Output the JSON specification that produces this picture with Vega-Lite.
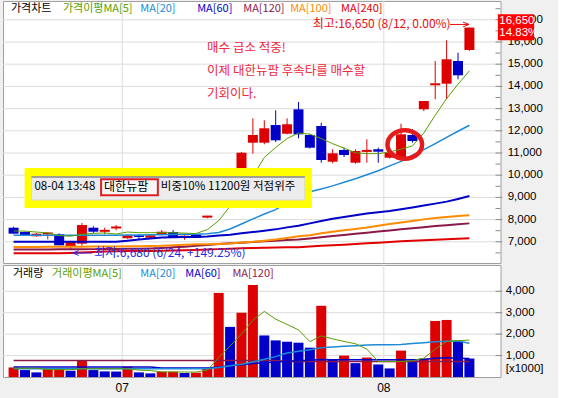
{
"$schema": "https://vega.github.io/schema/vega-lite/v6.json",
"background": "#f0f0f0",
"padding": {"left": 2, "top": 0, "right": 13, "bottom": 5},
"spacing": 0,
"config": {
  "view": {"fill": "#ffffff", "stroke": "#a0a0a0"},
  "axis": {"disable": true}
},
"datasets": {
"k": [
{"i":0,"o":7635,"h":7680,"l":7360,"c":7365,"d":"down","v":446,"vd":"up","m5":7490,"m20":7300,"m60":7000,"m100":6770,"m120":6650,"m240":6480,"v5":410,"v20":380,"v60":470,"v120":770},
{"i":1,"o":7440,"h":7460,"l":7270,"c":7275,"d":"down","v":323,"vd":"down","m5":7480,"m20":7300,"m60":7000,"m100":6770,"m120":6650,"m240":6480,"v5":410,"v20":380,"v60":470,"v120":770},
{"i":2,"o":7250,"h":7400,"l":7230,"c":7365,"d":"up","v":215,"vd":"down","m5":7440,"m20":7295,"m60":7000,"m100":6770,"m120":6655,"m240":6480,"v5":410,"v20":380,"v60":470,"v120":770},
{"i":3,"o":7330,"h":7410,"l":7110,"c":7420,"d":"up","v":369,"vd":"up","m5":7400,"m20":7295,"m60":7000,"m100":6775,"m120":6655,"m240":6480,"v5":350,"v20":380,"v60":470,"v120":770},
{"i":4,"o":7340,"h":7380,"l":6840,"c":6840,"d":"down","v":400,"vd":"up","m5":7280,"m20":7290,"m60":7000,"m100":6775,"m120":6660,"m240":6480,"v5":340,"v20":380,"v60":470,"v120":770},
{"i":5,"o":6780,"h":7050,"l":6680,"c":7005,"d":"up","v":292,"vd":"down","m5":7250,"m20":7290,"m60":7000,"m100":6780,"m120":6660,"m240":6500,"v5":340,"v20":380,"v60":470,"v120":770},
{"i":6,"o":6915,"h":7845,"l":6825,"c":7755,"d":"up","v":769,"vd":"up","m5":7340,"m20":7290,"m60":7000,"m100":6780,"m120":6665,"m240":6520,"v5":385,"v20":380,"v60":470,"v120":770},
{"i":7,"o":7635,"h":7700,"l":7400,"c":7455,"d":"down","v":323,"vd":"down","m5":7380,"m20":7295,"m60":7000,"m100":6785,"m120":6670,"m240":6540,"v5":385,"v20":380,"v60":470,"v120":770},
{"i":8,"o":7450,"h":7635,"l":7340,"c":7540,"d":"up","v":262,"vd":"down","m5":7400,"m20":7300,"m60":7000,"m100":6790,"m120":6675,"m240":6560,"v5":385,"v20":380,"v60":470,"v120":770},
{"i":9,"o":7600,"h":7755,"l":7520,"c":7690,"d":"up","v":255,"vd":"down","m5":7350,"m20":7300,"m60":7000,"m100":6790,"m120":6680,"m240":6570,"v5":385,"v20":380,"v60":470,"v120":770},
{"i":10,"o":7160,"h":7320,"l":7140,"c":7295,"d":"up","v":477,"vd":"up","m5":7440,"m20":7305,"m60":7050,"m100":6800,"m120":6685,"m240":6580,"v5":380,"v20":380,"v60":470,"v120":770},
{"i":11,"o":7295,"h":7340,"l":7110,"c":7215,"d":"down","v":215,"vd":"down","m5":7410,"m20":7310,"m60":7100,"m100":6800,"m120":6690,"m240":6590,"v5":320,"v20":380,"v60":470,"v120":770},
{"i":12,"o":7185,"h":7300,"l":7170,"c":7295,"d":"up","v":169,"vd":"down","m5":7410,"m20":7315,"m60":7150,"m100":6810,"m120":6700,"m240":6590,"v5":300,"v20":380,"v60":470,"v120":770},
{"i":13,"o":7340,"h":7530,"l":7320,"c":7455,"d":"up","v":246,"vd":"up","m5":7410,"m20":7320,"m60":7190,"m100":6820,"m120":6720,"m240":6600,"v5":240,"v20":380,"v60":420,"v120":770},
{"i":14,"o":7440,"h":7530,"l":7180,"c":7185,"d":"down","v":250,"vd":"up","m5":7410,"m20":7330,"m60":7210,"m100":6850,"m120":6750,"m240":6610,"v5":235,"v20":380,"v60":420,"v120":770},
{"i":15,"o":7185,"h":7290,"l":7095,"c":7275,"d":"up","v":185,"vd":"down","m5":7390,"m20":7335,"m60":7215,"m100":6870,"m120":6780,"m240":6620,"v5":230,"v20":380,"v60":420,"v120":770},
{"i":16,"o":7340,"h":7380,"l":7180,"c":7185,"d":"down","v":200,"vd":"up","m5":7370,"m20":7340,"m60":7220,"m100":6890,"m120":6820,"m240":6630,"v5":230,"v20":380,"v60":420,"v120":770},
{"i":17,"o":8090,"h":8170,"l":8060,"c":8180,"d":"up","v":415,"vd":"up","m5":7550,"m20":7360,"m60":7240,"m100":6890,"m120":6860,"m240":6650,"v5":320,"v20":390,"v60":420,"v120":770},
{"i":18,"o":8700,"h":10100,"l":8650,"c":9700,"d":"up","v":3923,"vd":"up","m5":7950,"m20":7420,"m60":7280,"m100":6900,"m120":6900,"m240":6670,"v5":900,"v20":440,"v60":470,"v120":770},
{"i":19,"o":10100,"h":10250,"l":9300,"c":9400,"d":"down","v":2338,"vd":"down","m5":8600,"m20":7580,"m60":7320,"m100":6920,"m120":6930,"m240":6690,"v5":1450,"v20":520,"v60":520,"v120":770},
{"i":20,"o":9500,"h":11050,"l":9450,"c":11014,"d":"up","v":3000,"vd":"up","m5":9300,"m20":7800,"m60":7390,"m100":6970,"m120":6960,"m240":6710,"v5":2000,"v20":600,"v60":570,"v120":770},
{"i":21,"o":11464,"h":12563,"l":10968,"c":11811,"d":"up","v":4292,"vd":"up","m5":9950,"m20":8030,"m60":7440,"m100":7000,"m120":6990,"m240":6720,"v5":2650,"v20":700,"v60":630,"v120":770},
{"i":22,"o":11464,"h":12473,"l":11392,"c":12113,"d":"up","v":1938,"vd":"down","m5":10800,"m20":8250,"m60":7500,"m100":7050,"m120":7020,"m240":6730,"v5":3060,"v20":830,"v60":660,"v120":770},
{"i":23,"o":12261,"h":12923,"l":11495,"c":11572,"d":"down","v":1708,"vd":"down","m5":11250,"m20":8450,"m60":7560,"m100":7100,"m120":7050,"m240":6740,"v5":2700,"v20":950,"v60":700,"v120":770},
{"i":24,"o":11869,"h":12563,"l":11842,"c":12293,"d":"up","v":1646,"vd":"down","m5":11650,"m20":8780,"m60":7650,"m100":7170,"m120":7080,"m240":6750,"v5":2450,"v20":1120,"v60":740,"v120":725},
{"i":25,"o":12968,"h":13297,"l":11662,"c":11842,"d":"down","v":1600,"vd":"down","m5":11900,"m20":9130,"m60":7720,"m100":7250,"m120":7100,"m240":6760,"v5":2200,"v20":1200,"v60":760,"v120":725},
{"i":26,"o":11811,"h":11850,"l":11200,"c":11239,"d":"down","v":1369,"vd":"down","m5":11850,"m20":9250,"m60":7830,"m100":7300,"m120":7150,"m240":6790,"v5":1650,"v20":1270,"v60":780,"v120":725},
{"i":27,"o":12216,"h":12365,"l":10563,"c":10685,"d":"down","v":3323,"vd":"up","m5":11650,"m20":9380,"m60":7940,"m100":7380,"m120":7200,"m240":6820,"v5":1920,"v20":1370,"v60":820,"v120":725},
{"i":28,"o":10608,"h":11167,"l":10536,"c":10986,"d":"up","v":800,"vd":"down","m5":11420,"m20":9520,"m60":8040,"m100":7455,"m120":7260,"m240":6840,"v5":1780,"v20":1400,"v60":800,"v120":725},
{"i":29,"o":11135,"h":11239,"l":10820,"c":10910,"d":"down","v":1000,"vd":"up","m5":11220,"m20":9680,"m60":8120,"m100":7520,"m120":7310,"m240":6870,"v5":1660,"v20":1430,"v60":800,"v120":725},
{"i":30,"o":10563,"h":11167,"l":10518,"c":11090,"d":"up","v":646,"vd":"down","m5":11010,"m20":9840,"m60":8200,"m100":7580,"m120":7360,"m240":6900,"v5":1550,"v20":1460,"v60":800,"v120":725},
{"i":31,"o":11050,"h":11617,"l":10563,"c":11140,"d":"up","v":908,"vd":"up","m5":10970,"m20":10020,"m60":8270,"m100":7640,"m120":7410,"m240":6930,"v5":1300,"v20":1490,"v60":800,"v120":725},
{"i":32,"o":11167,"h":11239,"l":10563,"c":11059,"d":"down","v":585,"vd":"down","m5":10970,"m20":10200,"m60":8330,"m100":7720,"m120":7460,"m240":6960,"v5":720,"v20":1500,"v60":800,"v120":725},
{"i":33,"o":10788,"h":11100,"l":10750,"c":11014,"d":"up","v":400,"vd":"down","m5":11050,"m20":10420,"m60":8390,"m100":7800,"m120":7510,"m240":6990,"v5":720,"v20":1510,"v60":800,"v120":725},
{"i":34,"o":10716,"h":12320,"l":10700,"c":11842,"d":"up","v":1231,"vd":"up","m5":11170,"m20":10620,"m60":8470,"m100":7870,"m120":7560,"m240":7030,"v5":720,"v20":1520,"v60":800,"v120":725},
{"i":35,"o":11811,"h":12068,"l":11464,"c":11541,"d":"down","v":769,"vd":"down","m5":11320,"m20":10900,"m60":8550,"m100":7940,"m120":7610,"m240":7050,"v5":760,"v20":1560,"v60":800,"v120":725},
{"i":36,"o":12968,"h":13342,"l":12892,"c":13342,"d":"up","v":862,"vd":"up","m5":11900,"m20":11150,"m60":8640,"m100":8010,"m120":7660,"m240":7070,"v5":880,"v20":1600,"v60":820,"v120":725},
{"i":37,"o":14050,"h":15144,"l":13419,"c":14140,"d":"up","v":2615,"vd":"up","m5":12700,"m20":11420,"m60":8720,"m100":8070,"m120":7710,"m240":7090,"v5":1300,"v20":1650,"v60":880,"v120":725},
{"i":38,"o":14122,"h":16077,"l":13419,"c":15221,"d":"up","v":2662,"vd":"up","m5":13450,"m20":11700,"m60":8810,"m100":8120,"m120":7750,"m240":7120,"v5":1650,"v20":1670,"v60":900,"v120":725},
{"i":39,"o":15144,"h":15518,"l":14320,"c":14500,"d":"down","v":1677,"vd":"down","m5":14100,"m20":11980,"m60":8930,"m100":8160,"m120":7790,"m240":7140,"v5":1700,"v20":1680,"v60":880,"v120":725},
{"i":40,"o":15640,"h":16650,"l":15600,"c":16650,"d":"up","v":862,"vd":"down","m5":14700,"m20":12250,"m60":9060,"m100":8200,"m120":7830,"m240":7160,"v5":1720,"v20":1570,"v60":860,"v120":725}
],
"pgrid": [{"g":7000},{"g":8000},{"g":9000},{"g":10000},{"g":11000},{"g":12000},{"g":13000},{"g":14000},{"g":15000},{"g":16000},{"g":17000}],
"pminor": [{"g":6500},{"g":7500},{"g":8500},{"g":9500},{"g":10500},{"g":11500},{"g":12500},{"g":13500},{"g":14500},{"g":15500},{"g":16500},{"g":17500}],
"vgrid": [{"g":1000},{"g":2000},{"g":3000},{"g":4000}],
"months": [{"t":9.53,"m":"07"},{"t":32.49,"m":"08"}]
},
"vconcat": [
{
  "width": 497.5,
  "height": 262,
  "layer": [
    {"data": {"name": "pgrid"}, "mark": {"type": "rule", "color": "#dcdcdc", "strokeWidth": 1},
     "encoding": {"y": {"field": "g", "type": "quantitative", "scale": {"domain": [6045, 17847], "nice": false, "zero": false}}}},
    {"data": {"name": "months"}, "mark": {"type": "rule", "color": "#dcdcdc", "strokeWidth": 1},
     "encoding": {"x": {"field": "t", "type": "quantitative", "scale": {"domain": [-0.49, 42.29], "nice": false, "zero": false}}}},
    {"data": {"name": "pgrid"}, "mark": {"type": "rule", "color": "#8c8c8c", "strokeWidth": 1},
     "encoding": {"x": {"datum": 42.29, "type": "quantitative"}, "x2": {"datum": 42.89}, "y": {"field": "g", "type": "quantitative"}}},
    {"data": {"name": "pminor"}, "mark": {"type": "rule", "color": "#8c8c8c", "strokeWidth": 1},
     "encoding": {"x": {"datum": 42.29, "type": "quantitative"}, "x2": {"datum": 42.72}, "y": {"field": "g", "type": "quantitative"}}},
    {"data": {"name": "pgrid"}, "mark": {"type": "text", "align": "left", "baseline": "middle", "font": "Liberation Sans", "fontSize": 11.5, "color": "#000000"},
     "encoding": {"x": {"datum": 43.36, "type": "quantitative"}, "y": {"field": "g", "type": "quantitative"}, "text": {"field": "g", "type": "quantitative", "format": ","}}},
    {"data": {"name": "k"}, "mark": {"type": "rule", "strokeWidth": 1},
     "encoding": {
       "x": {"field": "i", "type": "quantitative"},
       "y": {"field": "l", "type": "quantitative"},
       "y2": {"field": "h"},
       "color": {"field": "d", "type": "nominal", "scale": {"domain": ["up", "down"], "range": ["#dc0000", "#0000c8"]}, "legend": null}
     }},
    {"data": {"name": "k"}, "mark": {"type": "bar", "width": 10},
     "encoding": {
       "x": {"field": "i", "type": "quantitative"},
       "y": {"field": "o", "type": "quantitative"},
       "y2": {"field": "c"},
       "color": {"field": "d", "type": "nominal", "legend": null}
     }},
    {"data": {"name": "k"}, "mark": {"type": "line", "color": "#e00000", "strokeWidth": 2},
     "encoding": {"x": {"field": "i", "type": "quantitative"}, "y": {"field": "m240", "type": "quantitative"}}},
    {"data": {"name": "k"}, "mark": {"type": "line", "color": "#8b1a4a", "strokeWidth": 2},
     "encoding": {"x": {"field": "i", "type": "quantitative"}, "y": {"field": "m120", "type": "quantitative"}}},
    {"data": {"name": "k"}, "mark": {"type": "line", "color": "#ff8c00", "strokeWidth": 2},
     "encoding": {"x": {"field": "i", "type": "quantitative"}, "y": {"field": "m100", "type": "quantitative"}}},
    {"data": {"name": "k"}, "mark": {"type": "line", "color": "#0000c8", "strokeWidth": 2},
     "encoding": {"x": {"field": "i", "type": "quantitative"}, "y": {"field": "m60", "type": "quantitative"}}},
    {"data": {"name": "k"}, "mark": {"type": "line", "color": "#1e8ad6", "strokeWidth": 1.5},
     "encoding": {"x": {"field": "i", "type": "quantitative"}, "y": {"field": "m20", "type": "quantitative"}}},
    {"data": {"name": "k"}, "mark": {"type": "line", "color": "#5a9e00", "strokeWidth": 1},
     "encoding": {"x": {"field": "i", "type": "quantitative"}, "y": {"field": "m5", "type": "quantitative"}}},

    {"data": {"values": [{}]}, "mark": {"type": "rect", "fill": "#ffff00"},
     "encoding": {"x": {"datum": 0.97, "type": "quantitative"}, "x2": {"datum": 26.17},
                  "y": {"datum": 8523, "type": "quantitative"}, "y2": {"datum": 10324}}},
    {"data": {"values": [{}]}, "mark": {"type": "rect", "fill": "#ececec", "stroke": "#d8d8d8", "strokeWidth": 1},
     "encoding": {"x": {"datum": 1.57, "type": "quantitative"}, "x2": {"datum": 25.56},
                  "y": {"datum": 8883, "type": "quantitative"}, "y2": {"datum": 9919}}},
    {"data": {"values": [{}]}, "mark": {"type": "rule", "color": "#8a8a8a", "strokeWidth": 1.5},
     "encoding": {"x": {"datum": 1.57, "type": "quantitative"}, "x2": {"datum": 25.56},
                  "y": {"datum": 9919, "type": "quantitative"}}},
    {"data": {"values": [{}]}, "mark": {"type": "rect", "fill": "#f6f6f6", "stroke": "#e02020", "strokeWidth": 2},
     "encoding": {"x": {"datum": 7.68, "type": "quantitative"}, "x2": {"datum": 12.66},
                  "y": {"datum": 9095, "type": "quantitative"}, "y2": {"datum": 9815}}},
    {"data": {"values": [{}]}, "mark": {"type": "text", "align": "left", "baseline": "middle", "font": "Noto Sans CJK KR", "fontSize": 11.5, "color": "#000000", "text": "08-04 13:48"},
     "encoding": {"x": {"datum": 1.83, "type": "quantitative"}, "y": {"datum": 9468, "type": "quantitative"}}},
    {"data": {"values": [{}]}, "mark": {"type": "text", "align": "left", "baseline": "middle", "font": "Noto Sans CJK KR", "fontSize": 12, "color": "#000000", "text": "대한뉴팜"},
     "encoding": {"x": {"datum": 7.94, "type": "quantitative"}, "y": {"datum": 9468, "type": "quantitative"}}},
    {"data": {"values": [{}]}, "mark": {"type": "text", "align": "left", "baseline": "middle", "font": "Noto Sans CJK KR", "fontSize": 11.5, "color": "#000000", "text": "비중10% 11200원 저점위주"},
     "encoding": {"x": {"datum": 12.92, "type": "quantitative"}, "y": {"datum": 9468, "type": "quantitative"}}},

    {"data": {"values": [{}]}, "mark": {"type": "text", "align": "left", "baseline": "top", "font": "Noto Sans CJK KR", "fontSize": 12.5, "lineHeight": 23, "color": "#f0283c",
              "text": ["매수 급소 적중!", "이제 대한뉴팜 후속타를 매수할", "기회이다."]},
     "encoding": {"x": {"datum": 16.98, "type": "quantitative"}, "y": {"datum": 16020, "type": "quantitative"}}},

    {"data": {"values": [{}]}, "mark": {"type": "point", "shape": "M-1,0A1,0.82,0,1,1,1,0A1,0.82,0,1,1,-1,0Z", "size": 1200, "filled": false, "stroke": "#e41b1b", "strokeWidth": 4.5, "opacity": 1},
     "encoding": {"x": {"datum": 34.33, "type": "quantitative"}, "y": {"datum": 11383, "type": "quantitative"}}},

    {"data": {"values": [{}]}, "mark": {"type": "text", "align": "left", "baseline": "middle", "font": "Noto Sans CJK KR", "fontSize": 12, "color": "#e81010", "text": "최고:16,650 (8/12, 0.00%)"},
     "encoding": {"x": {"datum": 26.25, "type": "quantitative"}, "y": {"datum": 16810, "type": "quantitative"}}},
    {"data": {"values": [{}]}, "mark": {"type": "rule", "color": "#e81010", "strokeWidth": 1},
     "encoding": {"x": {"datum": 38.3, "type": "quantitative"}, "x2": {"datum": 39.95},
                  "y": {"datum": 16790, "type": "quantitative"}}},
    {"data": {"values": [{}]}, "mark": {"type": "point", "shape": "M-1,-0.8L1,0L-1,0.8", "size": 36, "filled": false, "stroke": "#e81010", "strokeWidth": 1, "opacity": 1},
     "encoding": {"x": {"datum": 39.7, "type": "quantitative"}, "y": {"datum": 16790, "type": "quantitative"}}},

    {"data": {"values": [{}]}, "mark": {"type": "text", "align": "left", "baseline": "middle", "font": "Noto Sans CJK KR", "fontSize": 12, "color": "#2a2ae6", "text": "최저:6,680 (6/24, +149.25%)"},
     "encoding": {"x": {"datum": 7.08, "type": "quantitative"}, "y": {"datum": 6495, "type": "quantitative"}}},
    {"data": {"values": [{}]}, "mark": {"type": "rule", "color": "#2a2ae6", "strokeWidth": 1},
     "encoding": {"x": {"datum": 5.19, "type": "quantitative"}, "x2": {"datum": 6.9},
                  "y": {"datum": 6495, "type": "quantitative"}}},
    {"data": {"values": [{}]}, "mark": {"type": "point", "shape": "M1,-0.8L-1,0L1,0.8", "size": 36, "filled": false, "stroke": "#2a2ae6", "strokeWidth": 1, "opacity": 1},
     "encoding": {"x": {"datum": 5.45, "type": "quantitative"}, "y": {"datum": 6495, "type": "quantitative"}}},

    {"data": {"values": [{}]}, "mark": {"type": "text", "align": "left", "baseline": "middle", "font": "Noto Sans CJK KR", "fontSize": 11, "color": "#000000", "text": "가격차트"},
     "encoding": {"x": {"datum": -0.23, "type": "quantitative"}, "y": {"datum": 17490, "type": "quantitative"}}},
    {"data": {"values": [{}]}, "mark": {"type": "text", "align": "left", "baseline": "middle", "font": "Noto Sans CJK KR", "fontSize": 11, "color": "#5a9e00", "text": "가격이평MA[5]"},
     "encoding": {"x": {"datum": 4.33, "type": "quantitative"}, "y": {"datum": 17490, "type": "quantitative"}}},
    {"data": {"values": [{}]}, "mark": {"type": "text", "align": "left", "baseline": "middle", "font": "Noto Sans CJK KR", "fontSize": 11, "color": "#1e8ad6", "text": "MA[20]"},
     "encoding": {"x": {"datum": 11.12, "type": "quantitative"}, "y": {"datum": 17490, "type": "quantitative"}}},
    {"data": {"values": [{}]}, "mark": {"type": "text", "align": "left", "baseline": "middle", "font": "Noto Sans CJK KR", "fontSize": 11, "color": "#0000c8", "text": "MA[60]"},
     "encoding": {"x": {"datum": 16.11, "type": "quantitative"}, "y": {"datum": 17490, "type": "quantitative"}}},
    {"data": {"values": [{}]}, "mark": {"type": "text", "align": "left", "baseline": "middle", "font": "Noto Sans CJK KR", "fontSize": 11, "color": "#8b1a4a", "text": "MA[120]"},
     "encoding": {"x": {"datum": 20.15, "type": "quantitative"}, "y": {"datum": 17490, "type": "quantitative"}}},
    {"data": {"values": [{}]}, "mark": {"type": "text", "align": "left", "baseline": "middle", "font": "Noto Sans CJK KR", "fontSize": 11, "color": "#ff8c00", "text": "MA[100]"},
     "encoding": {"x": {"datum": 24.27, "type": "quantitative"}, "y": {"datum": 17490, "type": "quantitative"}}},
    {"data": {"values": [{}]}, "mark": {"type": "text", "align": "left", "baseline": "middle", "font": "Noto Sans CJK KR", "fontSize": 11, "color": "#e00000", "text": "MA[240]"},
     "encoding": {"x": {"datum": 28.74, "type": "quantitative"}, "y": {"datum": 17490, "type": "quantitative"}}},

    {"data": {"values": [{}]}, "mark": {"type": "rect", "fill": "#ff0000"},
     "encoding": {"x": {"datum": 42.5, "type": "quantitative"}, "x2": {"datum": 45.68},
                  "y": {"datum": 16077, "type": "quantitative"}, "y2": {"datum": 17247}}},
    {"data": {"values": [{}]}, "mark": {"type": "text", "align": "left", "baseline": "middle", "font": "Liberation Sans", "fontSize": 11.5, "color": "#ffffff", "text": "16,650"},
     "encoding": {"x": {"datum": 42.62, "type": "quantitative"}, "y": {"datum": 16946, "type": "quantitative"}}},
    {"data": {"values": [{}]}, "mark": {"type": "text", "align": "left", "baseline": "middle", "font": "Liberation Sans", "fontSize": 11.5, "color": "#ffffff", "text": "14.83%"},
     "encoding": {"x": {"datum": 42.62, "type": "quantitative"}, "y": {"datum": 16390, "type": "quantitative"}}}
  ]
},
{
  "width": 497.5,
  "height": 112,
  "layer": [
    {"data": {"name": "vgrid"}, "mark": {"type": "rule", "color": "#dcdcdc", "strokeWidth": 1},
     "encoding": {"y": {"field": "g", "type": "quantitative", "scale": {"domain": [0, 5226], "nice": false, "zero": true}}}},
    {"data": {"name": "months"}, "mark": {"type": "rule", "color": "#dcdcdc", "strokeWidth": 1},
     "encoding": {"x": {"field": "t", "type": "quantitative", "scale": {"domain": [-0.49, 42.29], "nice": false, "zero": false}}}},
    {"data": {"name": "months"}, "mark": {"type": "text", "align": "center", "baseline": "middle", "font": "Liberation Sans", "fontSize": 12, "color": "#000000"},
     "encoding": {"x": {"field": "t", "type": "quantitative"}, "y": {"datum": -510, "type": "quantitative"}, "text": {"field": "m", "type": "nominal"}}},
    {"data": {"name": "vgrid"}, "mark": {"type": "rule", "color": "#8c8c8c", "strokeWidth": 1},
     "encoding": {"x": {"datum": 42.29, "type": "quantitative"}, "x2": {"datum": 42.89}, "y": {"field": "g", "type": "quantitative"}}},
    {"data": {"name": "vgrid"}, "mark": {"type": "text", "align": "left", "baseline": "middle", "font": "Liberation Sans", "fontSize": 11.5, "color": "#000000"},
     "encoding": {"x": {"datum": 43.19, "type": "quantitative"}, "y": {"field": "g", "type": "quantitative"}, "text": {"field": "g", "type": "quantitative", "format": ","}}},
    {"data": {"values": [{}]}, "mark": {"type": "text", "align": "left", "baseline": "middle", "font": "Liberation Sans", "fontSize": 11.5, "color": "#000000", "text": "[x1000]"},
     "encoding": {"x": {"datum": 43.19, "type": "quantitative"}, "y": {"datum": 373, "type": "quantitative"}}},
    {"data": {"name": "k"}, "mark": {"type": "bar", "width": 10},
     "encoding": {
       "x": {"field": "i", "type": "quantitative"},
       "y": {"field": "v", "type": "quantitative"},
       "color": {"field": "vd", "type": "nominal", "scale": {"domain": ["up", "down"], "range": ["#dc0000", "#0000c8"]}, "legend": null}
     }},
    {"data": {"name": "k"}, "mark": {"type": "line", "color": "#8b1a4a", "strokeWidth": 1.5},
     "encoding": {"x": {"field": "i", "type": "quantitative"}, "y": {"field": "v120", "type": "quantitative"}}},
    {"data": {"name": "k"}, "mark": {"type": "line", "color": "#0000c8", "strokeWidth": 1.5},
     "encoding": {"x": {"field": "i", "type": "quantitative"}, "y": {"field": "v60", "type": "quantitative"}}},
    {"data": {"name": "k"}, "mark": {"type": "line", "color": "#1e8ad6", "strokeWidth": 1.5},
     "encoding": {"x": {"field": "i", "type": "quantitative"}, "y": {"field": "v20", "type": "quantitative"}}},
    {"data": {"name": "k"}, "mark": {"type": "line", "color": "#5a9e00", "strokeWidth": 1},
     "encoding": {"x": {"field": "i", "type": "quantitative"}, "y": {"field": "v5", "type": "quantitative"}}},
    {"data": {"values": [{}]}, "mark": {"type": "text", "align": "left", "baseline": "middle", "font": "Noto Sans CJK KR", "fontSize": 11, "color": "#000000", "text": "거래량"},
     "encoding": {"x": {"datum": -0.06, "type": "quantitative"}, "y": {"datum": 4806, "type": "quantitative"}}},
    {"data": {"values": [{}]}, "mark": {"type": "text", "align": "left", "baseline": "middle", "font": "Noto Sans CJK KR", "fontSize": 11, "color": "#5a9e00", "text": "거래이평MA[5]"},
     "encoding": {"x": {"datum": 3.38, "type": "quantitative"}, "y": {"datum": 4806, "type": "quantitative"}}},
    {"data": {"values": [{}]}, "mark": {"type": "text", "align": "left", "baseline": "middle", "font": "Noto Sans CJK KR", "fontSize": 11, "color": "#1e8ad6", "text": "MA[20]"},
     "encoding": {"x": {"datum": 11.12, "type": "quantitative"}, "y": {"datum": 4806, "type": "quantitative"}}},
    {"data": {"values": [{}]}, "mark": {"type": "text", "align": "left", "baseline": "middle", "font": "Noto Sans CJK KR", "fontSize": 11, "color": "#0000c8", "text": "MA[60]"},
     "encoding": {"x": {"datum": 15.07, "type": "quantitative"}, "y": {"datum": 4806, "type": "quantitative"}}},
    {"data": {"values": [{}]}, "mark": {"type": "text", "align": "left", "baseline": "middle", "font": "Noto Sans CJK KR", "fontSize": 11, "color": "#8b1a4a", "text": "MA[120]"},
     "encoding": {"x": {"datum": 19.2, "type": "quantitative"}, "y": {"datum": 4806, "type": "quantitative"}}}
  ]
}
]
}
